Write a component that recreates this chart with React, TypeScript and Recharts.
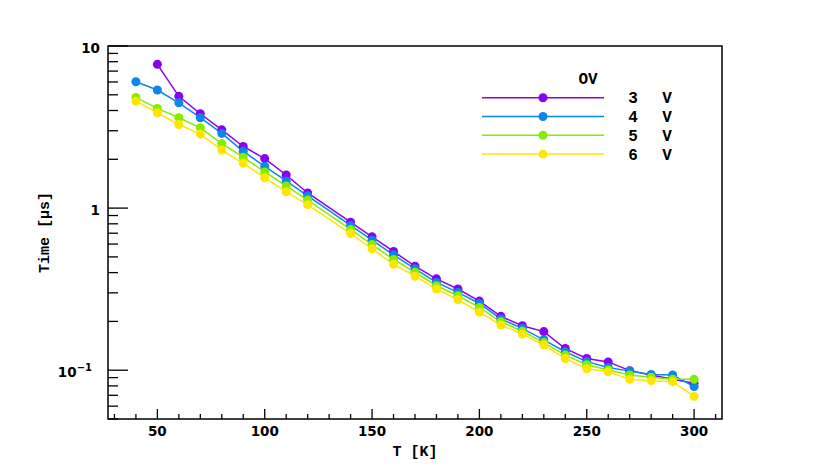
import React from 'react';
import { LineChart, Line, XAxis, YAxis, Legend, ReferenceArea } from 'recharts';

const temperatures = [40, 50, 60, 70, 80, 90, 100, 110, 120, 140, 150, 160, 170, 180, 190, 200, 210, 220, 230, 240, 250, 260, 270, 280, 290, 300];
const ov3 = [null, 7.71, 4.89, 3.82, 3.04, 2.40, 2.02, 1.60, 1.24, 0.819, 0.665, 0.540, 0.438, 0.366, 0.317, 0.267, 0.215, 0.188, 0.173, 0.136, 0.118, 0.1125, 0.0994, 0.0935, 0.088, 0.083];
const ov4 = [6.02, 5.35, 4.46, 3.61, 2.89, 2.24, 1.81, 1.47, 1.19, 0.782, 0.634, 0.515, 0.422, 0.348, 0.302, 0.258, 0.207, 0.181, 0.154, 0.130, 0.113, 0.104, 0.0987, 0.094, 0.0935, 0.0792];
const ov5 = [4.82, 4.12, 3.61, 3.13, 2.50, 2.06, 1.67, 1.37, 1.12, 0.738, 0.596, 0.482, 0.402, 0.332, 0.288, 0.244, 0.199, 0.174, 0.148, 0.124, 0.108, 0.1004, 0.0935, 0.0905, 0.088, 0.088];
const ov6 = [4.57, 3.87, 3.28, 2.86, 2.28, 1.89, 1.54, 1.26, 1.05, 0.697, 0.561, 0.450, 0.380, 0.317, 0.272, 0.228, 0.190, 0.167, 0.143, 0.118, 0.102, 0.0977, 0.0880, 0.0862, 0.085, 0.069];

const seriesKeys = ['v3', 'v4', 'v5', 'v6'];
const seriesNames = ['3', '4', '5', '6'];
const seriesColors = ['#8a00f0', '#0a88e8', '#84ee00', '#ffe600'];

const xTicks = [30, 40, 50, 60, 70, 80, 90, 100, 110, 120, 130, 140, 150, 160, 170, 180, 190, 200, 210, 220, 230, 240, 250, 260, 270, 280, 290, 300, 310];
const xLabelTicks = [50, 100, 150, 200, 250, 300];
const yTicks = [0.05, 0.06, 0.07, 0.08, 0.09, 0.1, 0.2, 0.3, 0.4, 0.5, 0.6, 0.7, 0.8, 0.9, 1, 2, 3, 4, 5, 6, 7, 8, 9, 10];
const yLabelTicks = [0.1, 1, 10];
const xDomain = [27, 313];
const yDomain = [0.05, 10];

const data = temperatures.map((t, i) => ({
  T: t,
  v3: ov3[i],
  v4: ov4[i],
  v5: ov5[i],
  v6: ov6[i],
}));

const tickFont = { fontFamily: '"DejaVu Sans", sans-serif', fontSize: 13.5, fontWeight: 700, fill: '#000' };
const monoFont = { fontFamily: '"Liberation Mono", "DejaVu Sans Mono", monospace', fontWeight: 700, fill: '#000' };

const XTick = (props: any) => {
  const { x, y, payload } = props;
  const v = payload.value;
  const major = xLabelTicks.includes(v);
  return (
    <g>
      <line x1={x} y1={y} x2={x} y2={y - (major ? 10 : 5)} stroke="#000" strokeWidth={1.3} />
      {major && (
        <text x={x} y={y + 17} textAnchor="middle" {...tickFont}>
          {v}
        </text>
      )}
    </g>
  );
};

const YTick = (props: any) => {
  const { x, y, payload } = props;
  const v = payload.value;
  const major = yLabelTicks.some((m) => Math.abs(m - v) < 1e-9);
  let label: any = null;
  if (major) {
    if (Math.abs(v - 0.1) < 1e-9) {
      label = (
        <text x={x - 16} y={y + 7} textAnchor="end" {...tickFont}>
          10
          <tspan dy={-6} fontSize={10}>−1</tspan>
        </text>
      );
    } else {
      label = (
        <text x={x - 8} y={y + 7} textAnchor="end" {...tickFont}>
          {v}
        </text>
      );
    }
  }
  return (
    <g>
      <line x1={x} y1={y} x2={x + (major ? 20 : 10)} y2={y} stroke="#000" strokeWidth={1.3} />
      {label}
    </g>
  );
};

const renderLegend = (props: any) => {
  const payload = props.payload || [];
  return (
    <svg width={830} height={466} style={{ display: 'block' }}>
      <text x={588} y={83.5} textAnchor="middle" fontSize={16} {...monoFont}>
        OV
      </text>
      {payload.map((entry: any, i: number) => {
        const cy = 97.7 + i * 18.8;
        return (
          <g key={entry.value}>
            <line x1={482} x2={604} y1={cy} y2={cy} stroke={entry.color} strokeWidth={1.5} />
            <circle cx={543} cy={cy} r={4.5} fill={entry.color} />
            <text x={633} y={cy + 5.5} textAnchor="middle" fontSize={16} {...monoFont}>
              {entry.value}
            </text>
            <text x={667} y={cy + 5.5} textAnchor="middle" fontSize={16} {...monoFont}>
              V
            </text>
          </g>
        );
      })}
    </svg>
  );
};

export default function App() {
  return (
    <div style={{ position: 'absolute', left: 0, top: 0, width: 830, height: 466, background: '#fff' }}>
      <LineChart width={830} height={466} data={data} margin={{ top: 46, right: 108, bottom: 0, left: 0 }}>
        <XAxis
          dataKey="T"
          type="number"
          domain={xDomain}
          allowDataOverflow
          ticks={xTicks}
          interval={0}
          tick={XTick}
          tickSize={0}
          tickMargin={0}
          tickLine={false}
          axisLine={false}
          height={47}
          label={{ value: 'T [K]', position: 'insideBottom', offset: 10, style: { ...monoFont, fontSize: 15 } }}
        />
        <YAxis
          type="number"
          scale="log"
          domain={yDomain}
          allowDataOverflow
          ticks={yTicks}
          interval={0}
          tick={YTick}
          tickSize={0}
          tickMargin={0}
          tickLine={false}
          axisLine={false}
          width={108}
          label={{ value: 'Time [µs]', angle: -90, position: 'insideLeft', offset: 44, style: { ...monoFont, fontSize: 15, textAnchor: 'middle' } }}
        />
        <ReferenceArea
          x1={xDomain[0]}
          x2={xDomain[1]}
          y1={yDomain[0]}
          y2={yDomain[1]}
          fill="none"
          stroke="#000"
          strokeWidth={1.5}
          ifOverflow="visible"
        />
        {seriesKeys.map((k, i) => (
          <Line
            key={k}
            dataKey={k}
            name={seriesNames[i]}
            stroke={seriesColors[i]}
            strokeWidth={1.5}
            dot={{ r: 4.5, fill: seriesColors[i], stroke: 'none' }}
            activeDot={false}
            connectNulls={false}
            isAnimationActive={false}
            legendType="line"
          />
        ))}
        <Legend
          layout="horizontal"
          verticalAlign="middle"
          align="center"
          content={renderLegend}
          wrapperStyle={{ left: 0, top: 0, width: 830, height: 466, pointerEvents: 'none' }}
        />
      </LineChart>
    </div>
  );
}
